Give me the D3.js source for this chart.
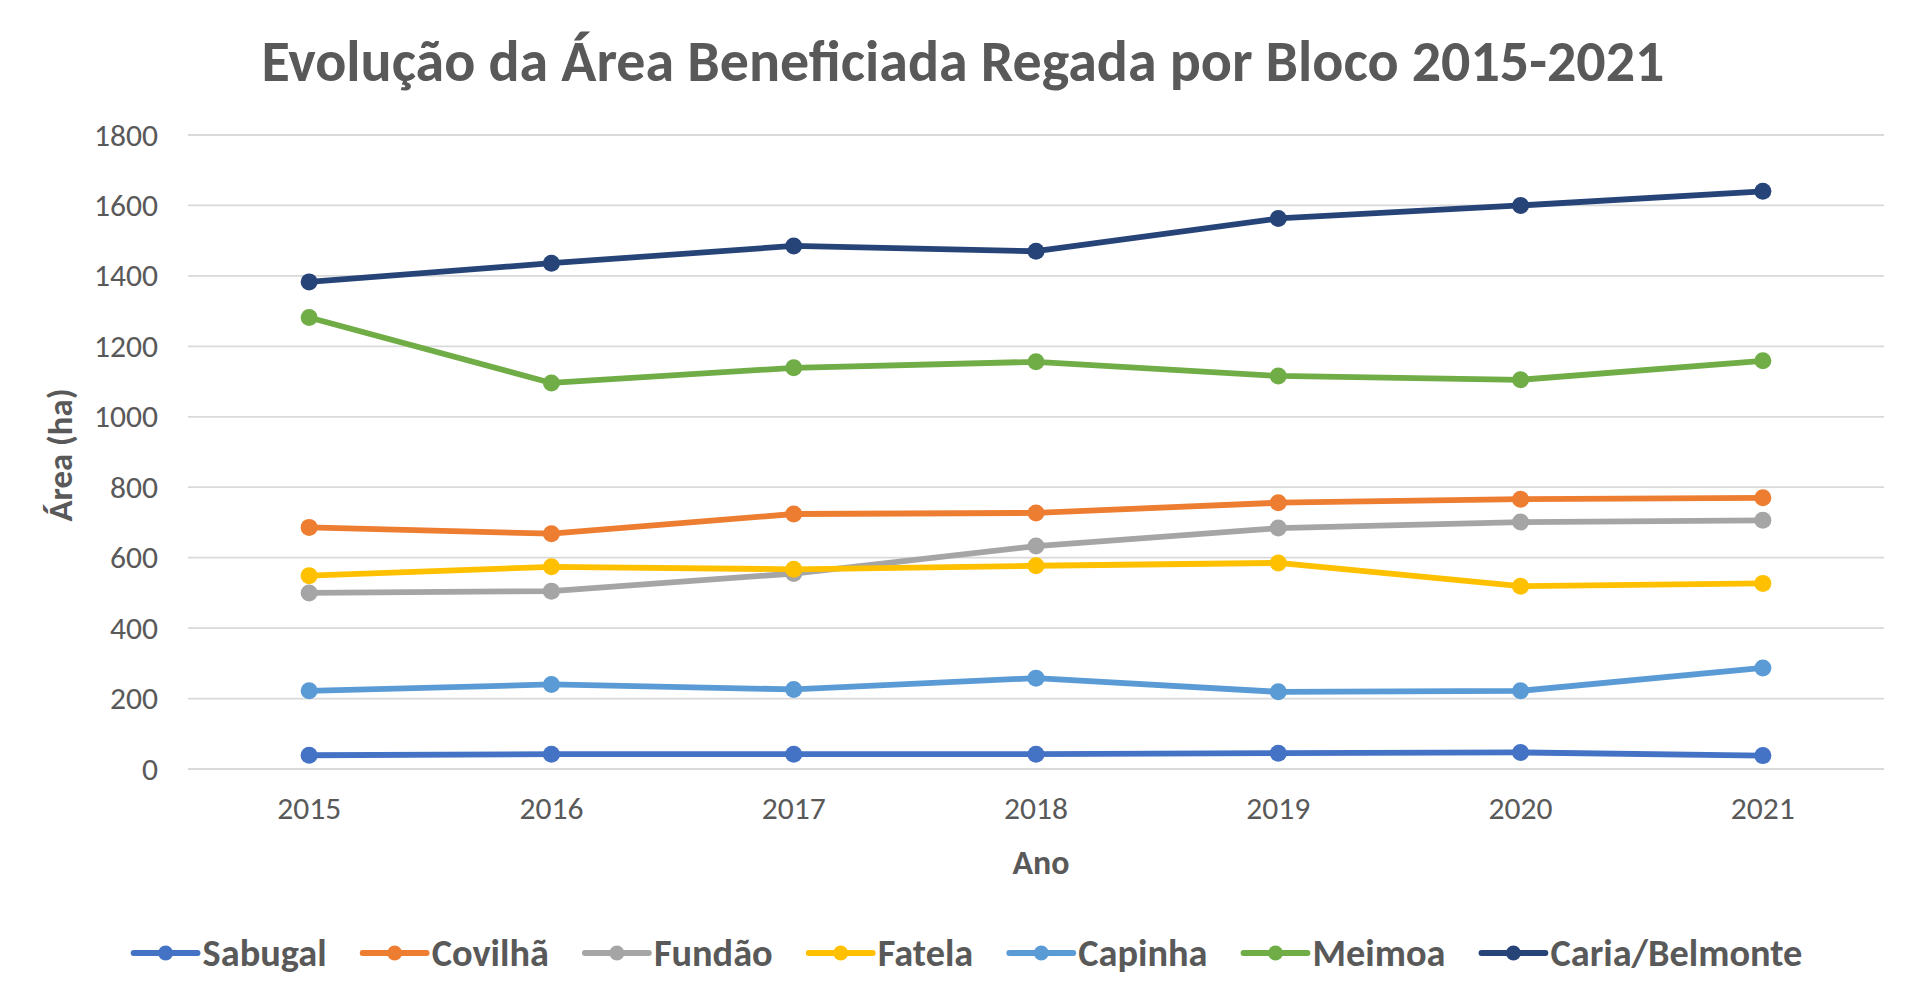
<!DOCTYPE html>
<html>
<head>
<meta charset="utf-8">
<script src="https://cdn.jsdelivr.net/npm/d3@7"></script>
<style>
  html, body { margin: 0; padding: 0; background: #fff; }
  svg text { font-family: Calibri, Carlito, Lato, sans-serif; fill: #595959; }
</style>
</head>
<body>
<div id="chart"></div>
<script>
// data (ha)
var years = ["2015", "2016", "2017", "2018", "2019", "2020", "2021"];
var yTicks = [0, 200, 400, 600, 800, 1000, 1200, 1400, 1600, 1800];

var sabugal  = [39, 42, 42, 42, 45, 47, 38];
var covilha  = [686, 668, 724, 727, 756, 766, 770];
var fundao   = [500, 505, 555, 633, 684, 701, 706];
var fatela   = [549, 574, 567, 577, 585, 519, 527];
var capinha  = [222, 240, 226, 258, 219, 222, 287];
var meimoa   = [1282, 1096, 1139, 1156, 1116, 1105, 1159];
var caria    = [1383, 1436, 1485, 1470, 1563, 1600, 1640];

var seriesNames = ["Sabugal", "Covilhã", "Fundão", "Fatela", "Capinha", "Meimoa", "Caria/Belmonte"];
var seriesColors = ["#4472C4", "#ED7D31", "#A5A5A5", "#FFC000", "#5B9BD5", "#70AD47", "#264478"];

var series = [sabugal, covilha, fundao, fatela, capinha, meimoa, caria].map(function(v, i) {
  return {name: seriesNames[i], color: seriesColors[i], values: v};
});

// set the dimensions and margins of the graph
var W = 1920, H = 1008;
var margin = {top: 135, right: 36, bottom: 239, left: 188},
    width = W - margin.left - margin.right,
    height = H - margin.top - margin.bottom;

var root = d3.select("#chart").append("svg")
    .attr("width", W)
    .attr("height", H);

// scale a text's font size so it spans the wanted width
function fitWidth(sel, target) {
  var fs = parseFloat(sel.attr("font-size"));
  var w = sel.node().getComputedTextLength();
  sel.attr("font-size", (fs * target / w).toFixed(2));
  return sel.attr("font-size");
}

// title
var title = root.append("text")
    .attr("x", 963).attr("y", 81)
    .attr("text-anchor", "middle")
    .attr("font-size", 50)
    .attr("font-weight", "bold")
    .text("Evolução da Área Beneficiada Regada por Bloco 2015-2021");
fitWidth(title, 1403);

var svg = root.append("g")
    .attr("transform", "translate(" + margin.left + "," + margin.top + ")");

var x = d3.scaleBand().domain(years).range([0, width]);
var y = d3.scaleLinear().domain([0, 1800]).range([height, 0]);

// gridlines
svg.append("g")
  .selectAll("line")
  .data(yTicks)
  .join("line")
    .attr("x1", 0).attr("x2", width)
    .attr("y1", d => y(d)).attr("y2", d => y(d))
    .attr("stroke", "#d9d9d9")
    .attr("stroke-width", 1.8);

// tick font size from the width of one year label
var probe = root.append("text").attr("font-size", 30).text("2015");
var tickSize = fitWidth(probe, 64);
probe.remove();

// Y axis labels
var yAxis = svg.append("g")
    .call(d3.axisLeft(y).tickValues(yTicks).tickFormat(d3.format("d")).tickSize(0).tickPadding(30));
yAxis.attr("font-family", null).attr("font-size", null);
yAxis.select(".domain").remove();
yAxis.selectAll("text")
    .attr("font-size", tickSize)
    .attr("fill", "#595959");

// X axis labels
var xAxis = svg.append("g")
    .attr("transform", "translate(0," + height + ")")
    .call(d3.axisBottom(x).tickSize(0).tickPadding(28));
xAxis.attr("font-family", null).attr("font-size", null);
xAxis.select(".domain").remove();
xAxis.selectAll("text")
    .attr("font-size", tickSize)
    .attr("fill", "#595959");

// axis titles
var yTitle = root.append("text")
    .attr("transform", "translate(72,455) rotate(-90)")
    .attr("text-anchor", "middle")
    .attr("font-size", 28)
    .attr("font-weight", "bold")
    .text("Área (ha)");
fitWidth(yTitle, 133);

var xTitle = root.append("text")
    .attr("x", 1041).attr("y", 874)
    .attr("text-anchor", "middle")
    .attr("font-size", 28)
    .attr("font-weight", "bold")
    .text("Ano");
fitWidth(xTitle, 57);

// lines and markers
var cx = d => x(d) + x.bandwidth() / 2;
var line = d3.line()
    .x((d, i) => cx(years[i]))
    .y(d => y(d));

var sg = svg.append("g")
  .selectAll("g")
  .data(series)
  .join("g");

sg.append("path")
    .attr("d", d => line(d.values))
    .attr("fill", "none")
    .attr("stroke", d => d.color)
    .attr("stroke-width", 5.8)
    .attr("stroke-linejoin", "round");

sg.selectAll("circle")
  .data(d => d.values.map(function(v, i) { return {v: v, year: years[i], color: d.color}; }))
  .join("circle")
    .attr("cx", d => cx(d.year))
    .attr("cy", d => y(d.v))
    .attr("r", 8.5)
    .attr("fill", d => d.color);

// legend
var legend = root.append("g").attr("transform", "translate(0,953)");
var items = legend.selectAll("g")
  .data(series)
  .join("g");

items.append("line")
    .attr("x1", 0).attr("x2", 64)
    .attr("stroke", d => d.color)
    .attr("stroke-width", 5.8)
    .attr("stroke-linecap", "round");
items.append("circle")
    .attr("cx", 32).attr("r", 7.5)
    .attr("fill", d => d.color);
var labels = items.append("text")
    .attr("x", 69).attr("dy", "0.35em")
    .attr("font-size", 34)
    .attr("font-weight", "bold")
    .text(d => d.name);

// legend font size from the last label's width
var lastLabel = d3.select(labels.nodes()[6]);
labels.attr("font-size", fitWidth(lastLabel, 252));

var gap = 36, pos = [], cur = 0;
labels.each(function(d, i) {
  pos.push(cur);
  cur += 69 + this.getComputedTextLength() + gap;
});
var total = cur - gap;
var start = 968 - total / 2;
items.attr("transform", (d, i) => "translate(" + (start + pos[i]) + ",0)");
</script>
</body>
</html>
